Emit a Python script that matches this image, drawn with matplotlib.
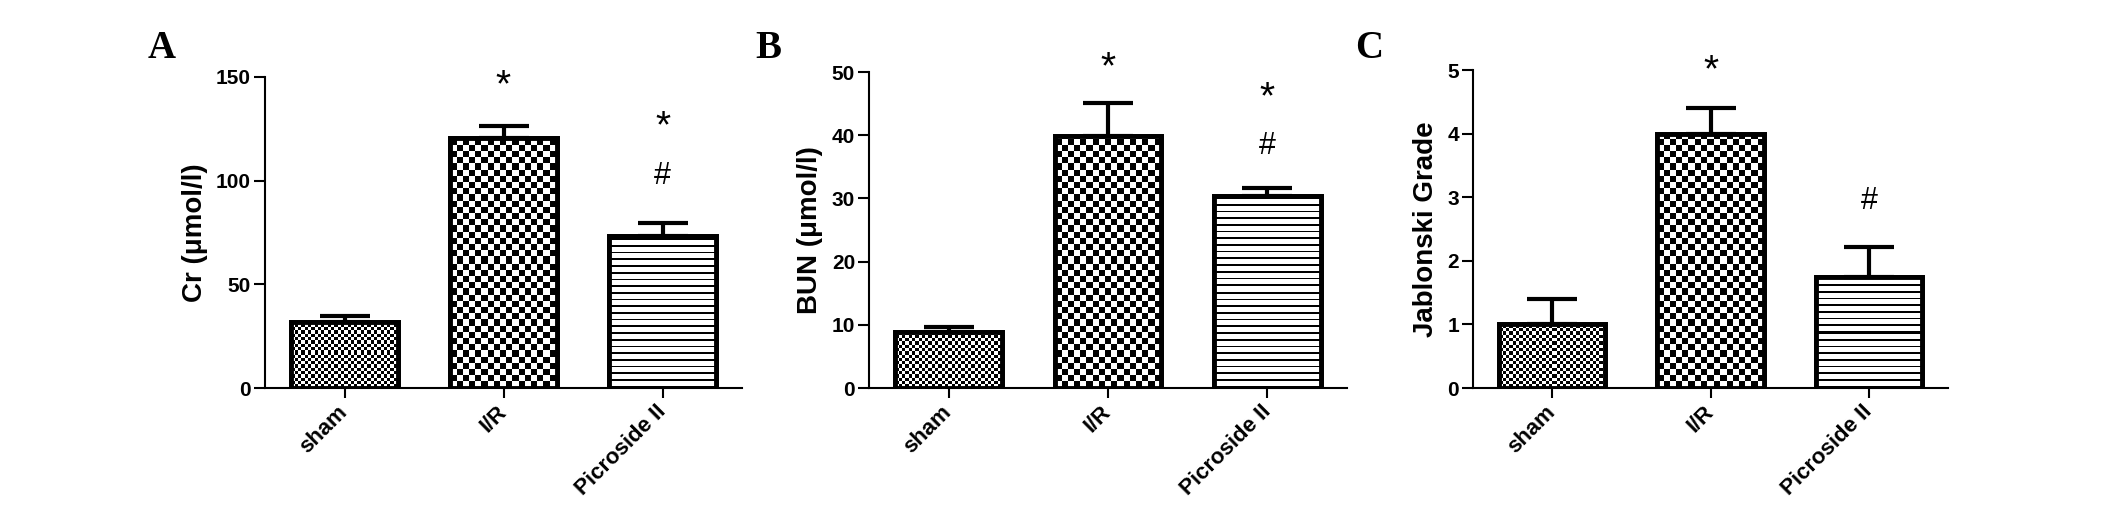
import numpy as np
import matplotlib
matplotlib.use('Agg')
import matplotlib.pyplot as plt

plt.rcParams['font.family'] = ['Liberation Sans', 'DejaVu Sans']
plt.rcParams['font.weight'] = 'bold'

# group names
groups = ['sham', 'I/R', 'Picroside II']

# Cr (umol/l)
cr_mean = [32.0, 120.8, 73.3]
cr_err = [2.5, 5.5, 6.1]
# BUN (umol/l)
bun_mean = [8.8, 39.9, 30.4]
bun_err = [0.8, 5.2, 1.3]
# Jablonski grade
grade_mean = [1.0, 4.0, 1.75]
grade_err = [0.40, 0.40, 0.46]

# significance marks: '*' vs sham, '#' vs I/R  (group index, symbol, height)
cr_sig = [(1, '*', 151.6), (2, '*', 131.6), (2, '#', 103.5)]
bun_sig = [(1, '*', 52.6), (2, '*', 47.9), (2, '#', 38.7)]
grade_sig = [(1, '*', 5.18), (2, '#', 2.98)]

panels = [
    ('A', 'Cr (\u03bcmol/l)', cr_mean, cr_err, cr_sig, 150, [0, 50, 100, 150]),
    ('B', 'BUN (\u03bcmol/l)', bun_mean, bun_err, bun_sig, 50, [0, 10, 20, 30, 40, 50]),
    ('C', 'Jablonski Grade', grade_mean, grade_err, grade_sig, 5, [0, 1, 2, 3, 4, 5]),
]

W, H = 2126, 521
# axes boxes in pixels: left, top, right, bottom
boxes = [(265, 77, 742, 388), (869, 72, 1347, 388), (1473, 70, 1948, 388)]
letter_pos = [(148, 58), (755, 58), (1355, 58)]
patterns = ['fine', 'coarse', 'stripes']


def texture(kind, w, h):
    jj, ii = np.meshgrid(np.arange(w), np.arange(h))
    if kind == 'fine':
        c = 3.3
        return ((ii / c).astype(int) + (jj / c).astype(int)) % 2
    if kind == 'coarse':
        c = 6.2
        return ((ii / c).astype(int) + (jj / c).astype(int)) % 2
    return ((ii % 6.7) < 1.7).astype(int)


fig = plt.figure(figsize=(W / 100, H / 100), dpi=100)

for (letter, ylabel, mean, err, sig, ymax, yticks), box, lp in zip(panels, boxes, letter_pos):
    l, t, r, b = box
    ax = fig.add_axes([l / W, 1 - b / H, (r - l) / W, (b - t) / H])
    x = np.arange(len(groups))
    ax.set_xlim(-0.5, 2.5)
    ax.set_ylim(0, ymax)
    ax.set_autoscale_on(False)

    bars = ax.bar(x, mean, width=0.67, color='white', edgecolor='black', linewidth=3.5, zorder=1)
    for bar, kind in zip(bars, patterns):
        x0, y0 = bar.get_x(), bar.get_y()
        x1, y1 = x0 + bar.get_width(), y0 + bar.get_height()
        p0, p1 = ax.transData.transform([[x0, y0], [x1, y1]])
        w_px = max(int(round(p1[0] - p0[0])), 1)
        h_px = max(int(round(p1[1] - p0[1])), 1)
        im = ax.imshow(texture(kind, w_px, h_px), extent=[x0, x1, y0, y1], origin='lower',
                       aspect='auto', interpolation='nearest', cmap='gray_r', vmin=0, vmax=1, zorder=2)
        im.set_clip_path(bar)
    ax.bar(x, mean, width=0.67, fill=False, edgecolor='black', linewidth=3.5, zorder=3)
    ax.errorbar(x, mean, yerr=[np.zeros(len(err)), err], fmt='none', ecolor='black',
                elinewidth=3, capsize=18, capthick=3, zorder=4, clip_on=False)

    for gi, sym, yy in sig:
        fs = 28 if sym == '*' else 22
        dy = -0.58 * fs if sym == '*' else -0.36 * fs
        ax.annotate(sym, xy=(x[gi], yy), xytext=(0, dy), textcoords='offset points',
                    ha='center', va='baseline', fontsize=fs, fontweight='normal',
                    annotation_clip=False)

    ax.spines['top'].set_visible(False)
    ax.spines['right'].set_visible(False)
    ax.spines['left'].set_linewidth(1.5)
    ax.spines['bottom'].set_linewidth(1.5)
    ax.set_yticks(yticks)
    ax.set_xticks(x)
    ax.set_xticklabels(groups, rotation=45, ha='right', va='center', rotation_mode='anchor')
    ax.tick_params(axis='y', length=8, width=1.5, labelsize=15, pad=2)
    ax.tick_params(axis='x', length=7, width=1.5, labelsize=16, pad=8)
    ax.set_ylabel(ylabel, fontsize=20, fontweight='bold', labelpad=6)

    fig.text(lp[0] / W, 1 - lp[1] / H, letter, family='Liberation Serif', fontweight='bold',
             fontsize=28, ha='left', va='baseline')

fig.savefig('out.png', dpi=100)
